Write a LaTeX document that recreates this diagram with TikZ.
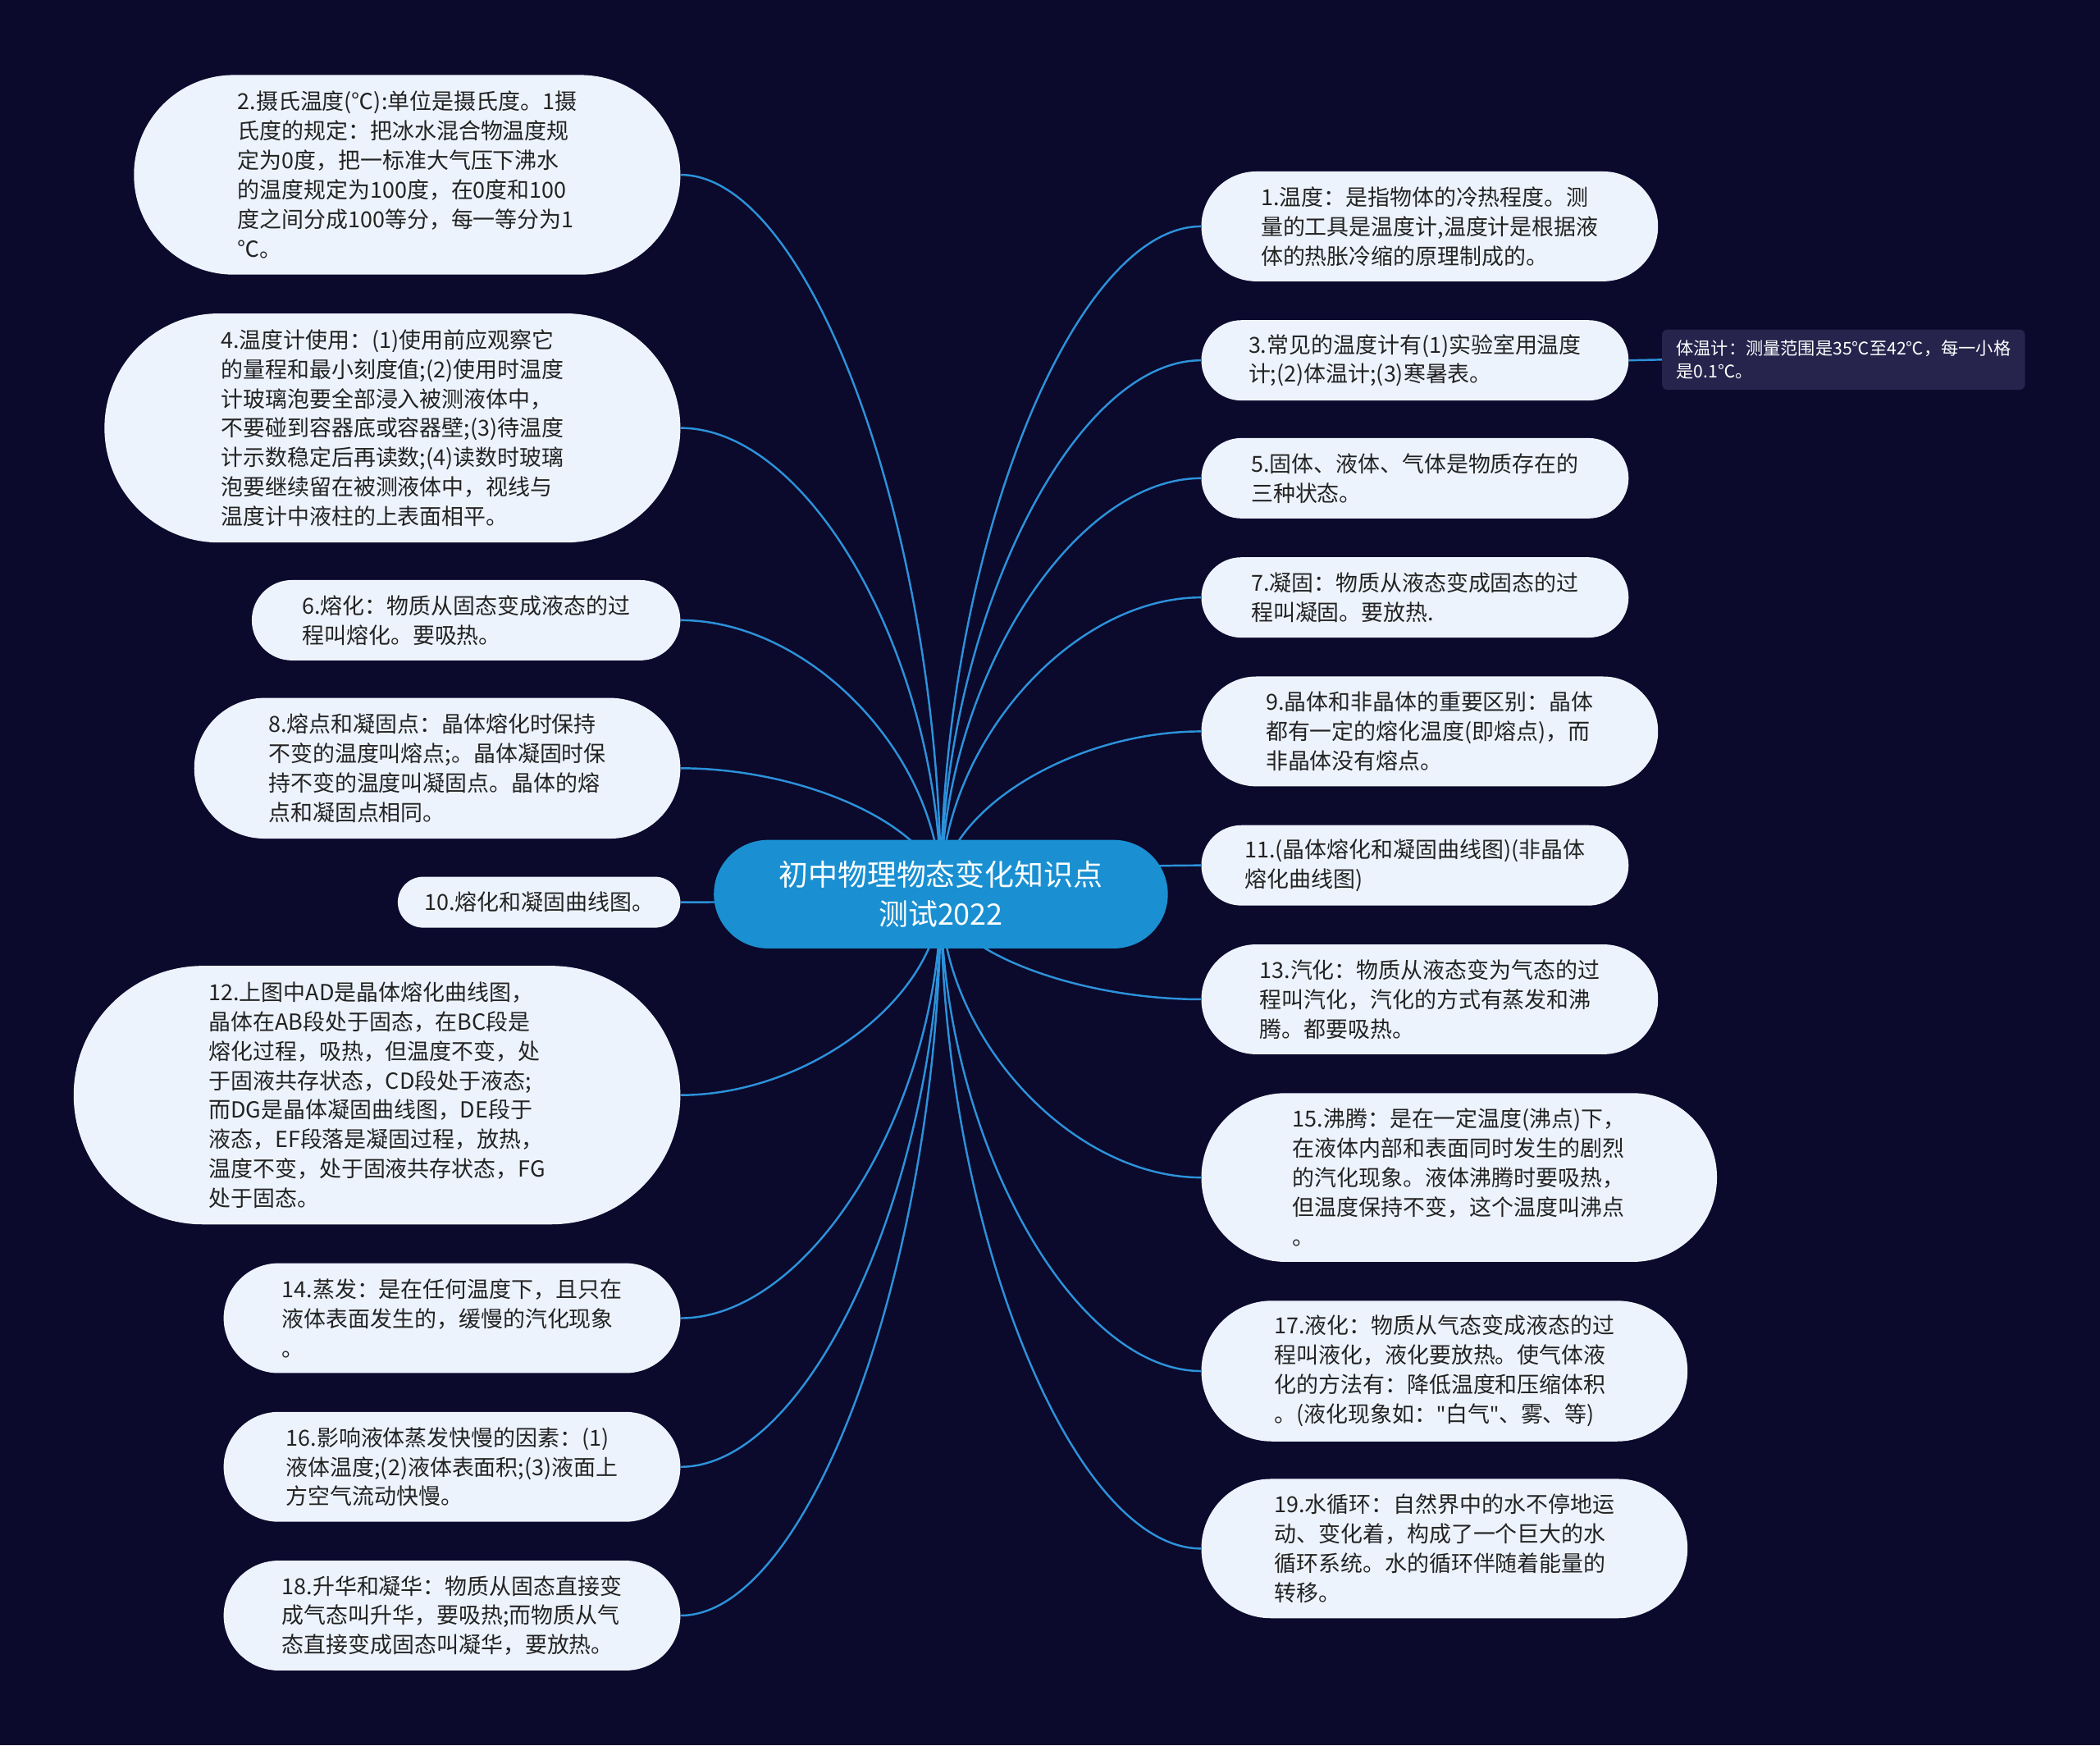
\documentclass[tikz,border=0pt]{standalone}
\usepackage{fontspec}
\setmainfont{Noto Sans CJK SC}
\newfontfamily\latinq{Noto Sans}
\usetikzlibrary{calc}
\definecolor{bgc}{RGB}{11,9,44}
\definecolor{boxc}{RGB}{237,243,253}
\definecolor{txtc}{RGB}{35,35,35}
\definecolor{rootc}{RGB}{26,144,210}
\definecolor{linec}{RGB}{44,146,218}
\definecolor{notec}{RGB}{38,36,76}
\pgfdeclarelayer{bg}
\pgfsetlayers{bg,main}
\tikzset{
  leaf/.style={fill=boxc, text=txtc, inner sep=0pt, align=left,
    font=\fontsize{16.5}{22}\selectfont},
  rootbox/.style={fill=rootc, text=white, inner sep=0pt, align=center,
    font=\fontsize{22}{29}\selectfont, minimum width=339pt, minimum height=81pt, rounded corners=40.5pt},
  notebox/.style={fill=notec, text=white, inner sep=0pt, align=left,
    font=\fontsize{13}{17}\selectfont, rounded corners=4pt},
  conn/.style={draw=linec, line width=1.5pt}
}
\newcommand\linkto[1]{\draw[conn] (root.center) .. controls ($(root.center)!0.5!(root.center |- #1)$) and ($(#1)!0.5!(root.center |- #1)$) .. (#1);}
\newcommand\sq{{\latinq\char"0022}}
\begin{document}
\begin{tikzpicture}[x=1pt,y=-1pt]
\begin{pgfonlayer}{bg}
\fill[bgc] (0,0) rectangle (1568,1303);
\end{pgfonlayer}
\useasboundingbox (0,0) rectangle (1568,1303);

\node[rootbox] (root) at (702.5,667.5) {初中物理物态变化知识点\\测试2022};

% left
\node[leaf, minimum width=408pt, minimum height=149pt, rounded corners=74.5pt] (L2) at (304,130.5)
 {2.摄氏温度(℃):单位是摄氏度。1摄\\氏度的规定：把冰水混合物温度规\\定为0度，把一标准大气压下沸水\\的温度规定为100度，在0度和100\\度之间分成100等分，每一等分为1\\℃。};
\node[leaf, minimum width=430pt, minimum height=171pt, rounded corners=85.5pt] (L4) at (293,319.5)
 {4.温度计使用：(1)使用前应观察它\\的量程和最小刻度值;(2)使用时温度\\计玻璃泡要全部浸入被测液体中，\\不要碰到容器底或容器壁;(3)待温度\\计示数稳定后再读数;(4)读数时玻璃\\泡要继续留在被测液体中，视线与\\温度计中液柱的上表面相平。};
\node[leaf, minimum width=320pt, minimum height=60pt, rounded corners=30pt] (L6) at (348,463)
 {6.熔化：物质从固态变成液态的过\\程叫熔化。要吸热。};
\node[leaf, minimum width=363pt, minimum height=105pt, rounded corners=52.5pt] (L8) at (326.5,573.5)
 {8.熔点和凝固点：晶体熔化时保持\\不变的温度叫熔点;。晶体凝固时保\\持不变的温度叫凝固点。晶体的熔\\点和凝固点相同。};
\node[leaf, minimum width=211pt, minimum height=38pt, rounded corners=19pt] (L10) at (402.5,673.5)
 {10.熔化和凝固曲线图。};
\node[leaf, minimum width=453pt, minimum height=193pt, rounded corners=96.5pt] (L12) at (281.5,817.5)
 {12.上图中AD是晶体熔化曲线图，\\晶体在AB段处于固态，在BC段是\\熔化过程，吸热，但温度不变，处\\于固液共存状态，CD段处于液态;\\而DG是晶体凝固曲线图，DE段于\\液态，EF段落是凝固过程，放热，\\温度不变，处于固液共存状态，FG\\处于固态。};
\node[leaf, minimum width=341pt, minimum height=82pt, rounded corners=41pt] (L14) at (337.5,984)
 {14.蒸发：是在任何温度下，且只在\\液体表面发生的，缓慢的汽化现象\\。};
\node[leaf, minimum width=341pt, minimum height=82pt, rounded corners=41pt] (L16) at (337.5,1095)
 {16.影响液体蒸发快慢的因素：(1)\\液体温度;(2)液体表面积;(3)液面上\\方空气流动快慢。};
\node[leaf, minimum width=341pt, minimum height=82pt, rounded corners=41pt] (L18) at (337.5,1206)
 {18.升华和凝华：物质从固态直接变\\成气态叫升华，要吸热;而物质从气\\态直接变成固态叫凝华，要放热。};

% right
\node[leaf, minimum width=341pt, minimum height=82pt, rounded corners=41pt] (R1) at (1067.5,169)
 {1.温度：是指物体的冷热程度。测\\量的工具是温度计,温度计是根据液\\体的热胀冷缩的原理制成的。};
\node[leaf, minimum width=319pt, minimum height=60pt, rounded corners=30pt] (R3) at (1056.5,269)
 {3.常见的温度计有(1)实验室用温度\\计;(2)体温计;(3)寒暑表。};
\node[notebox, minimum width=271pt, minimum height=45pt] (N3) at (1376.5,268.5)
 {体温计：测量范围是35℃至42℃，每一小格\\是0.1℃。};
\node[leaf, minimum width=319pt, minimum height=60pt, rounded corners=30pt] (R5) at (1056.5,357)
 {5.固体、液体、气体是物质存在的\\三种状态。};
\node[leaf, minimum width=319pt, minimum height=60pt, rounded corners=30pt] (R7) at (1056.5,446)
 {7.凝固：物质从液态变成固态的过\\程叫凝固。要放热.};
\node[leaf, minimum width=341pt, minimum height=82pt, rounded corners=41pt] (R9) at (1067.5,546)
 {9.晶体和非晶体的重要区别：晶体\\都有一定的熔化温度(即熔点)，而\\非晶体没有熔点。};
\node[leaf, minimum width=319pt, minimum height=60pt, rounded corners=30pt] (R11) at (1056.5,646)
 {11.(晶体熔化和凝固曲线图)(非晶体\\熔化曲线图)};
\node[leaf, minimum width=341pt, minimum height=82pt, rounded corners=41pt] (R13) at (1067.5,746)
 {13.汽化：物质从液态变为气态的过\\程叫汽化，汽化的方式有蒸发和沸\\腾。都要吸热。};
\node[leaf, minimum width=385pt, minimum height=126pt, rounded corners=63pt] (R15) at (1089.5,879)
 {15.沸腾：是在一定温度(沸点)下，\\在液体内部和表面同时发生的剧烈\\的汽化现象。液体沸腾时要吸热，\\但温度保持不变，这个温度叫沸点\\。};
\node[leaf, minimum width=363pt, minimum height=105pt, rounded corners=52.5pt] (R17) at (1078.5,1023.5)
 {17.液化：物质从气态变成液态的过\\程叫液化，液化要放热。使气体液\\化的方法有：降低温度和压缩体积\\。(液化现象如：\sq 白气\sq 、雾、等)};
\node[leaf, minimum width=363pt, minimum height=104pt, rounded corners=52pt] (R19) at (1078.5,1156)
 {19.水循环：自然界中的水不停地运\\动、变化着，构成了一个巨大的水\\循环系统。水的循环伴随着能量的\\转移。};

\begin{pgfonlayer}{bg}
\linkto{L2.east}
\linkto{L4.east}
\linkto{L6.east}
\linkto{L8.east}
\linkto{L10.east}
\linkto{L12.east}
\linkto{L14.east}
\linkto{L16.east}
\linkto{L18.east}
\linkto{R1.west}
\linkto{R3.west}
\linkto{R5.west}
\linkto{R7.west}
\linkto{R9.west}
\linkto{R11.west}
\linkto{R13.west}
\linkto{R15.west}
\linkto{R17.west}
\linkto{R19.west}
\draw[conn] (R3.east) -- (N3.west);
\end{pgfonlayer}
\end{tikzpicture}
\end{document}
